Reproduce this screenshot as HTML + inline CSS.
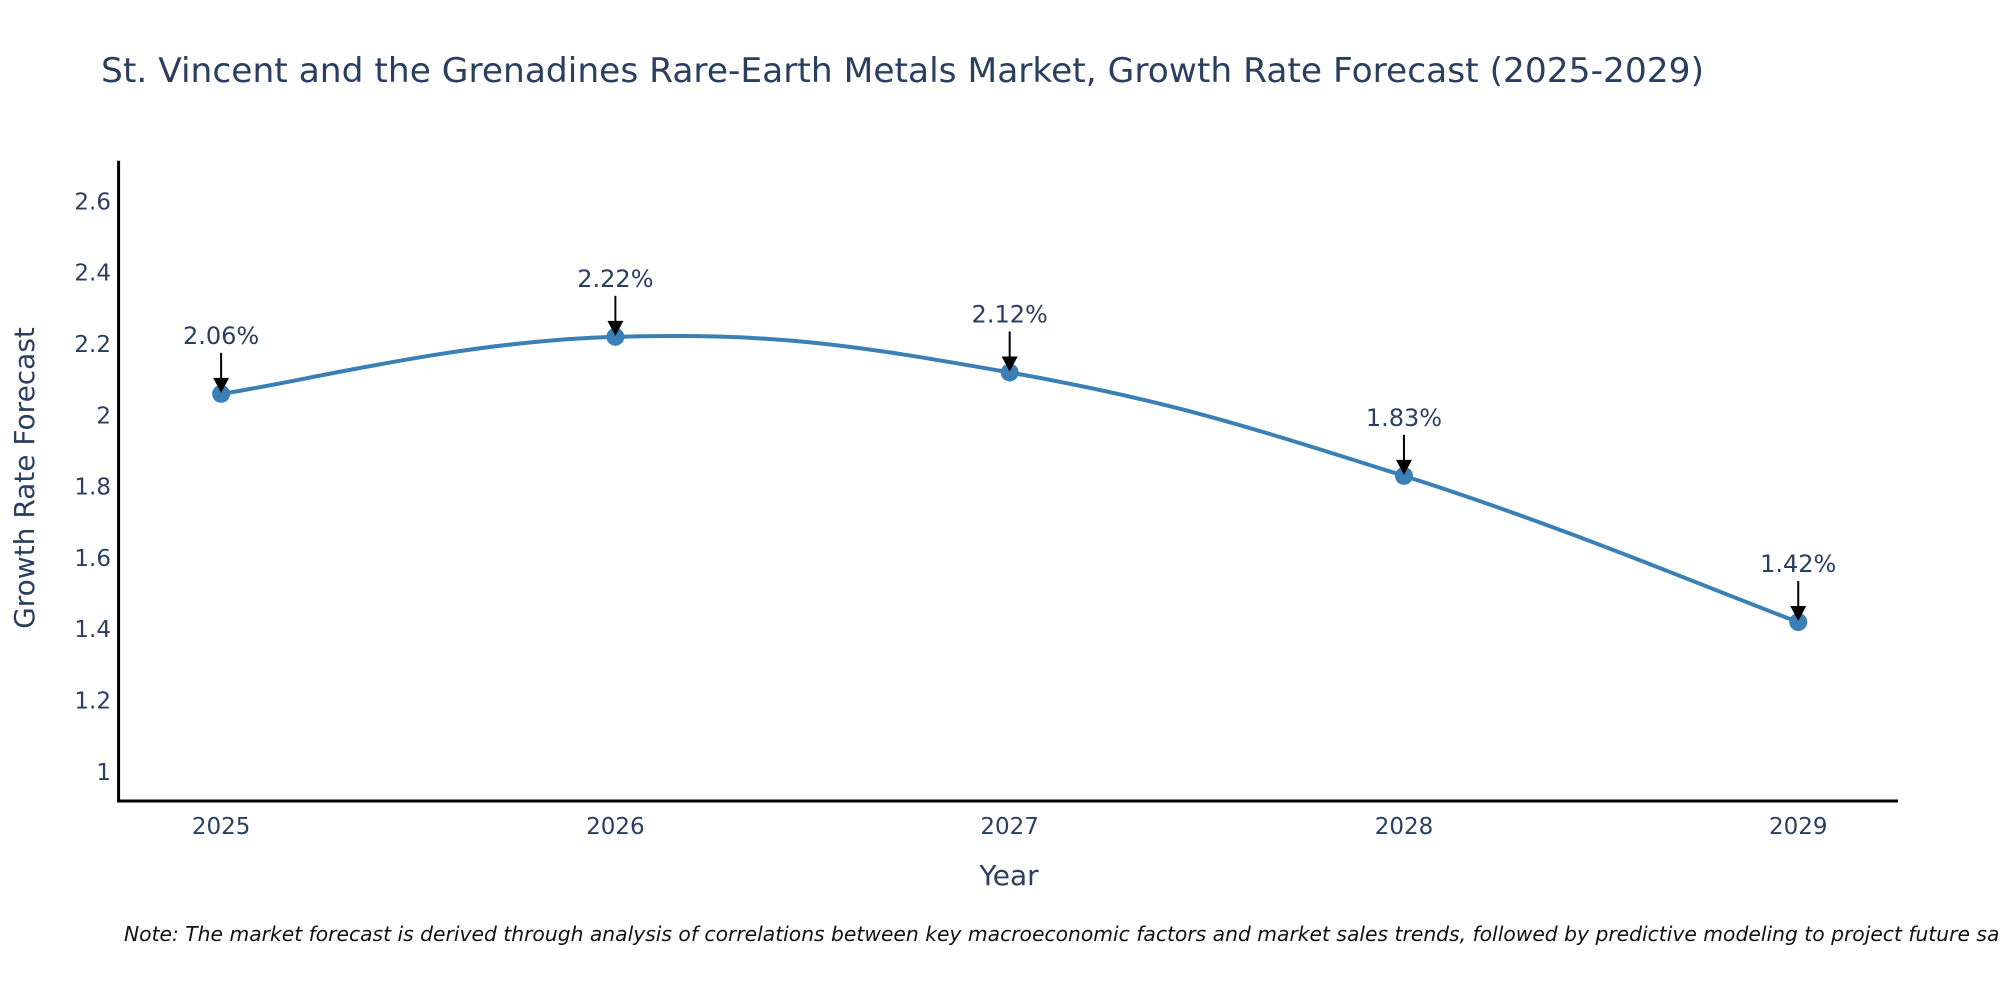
<!DOCTYPE html>
<html><head><meta charset="utf-8"><style>
body{margin:0;background:#fff;}
svg{display:block;font-family:"DejaVu Sans","Liberation Sans",sans-serif;}
</style></head><body>
<svg id="chart" width="2000" height="1000">
<text x="101" y="82" font-size="34" fill="#2a3f5f" textLength="1603" lengthAdjust="spacingAndGlyphs">St. Vincent and the Grenadines Rare-Earth Metals Market, Growth Rate Forecast (2025-2029)</text>
<g id="plot"></g>
<text transform="translate(34,478) rotate(-90)" text-anchor="middle" font-size="28" fill="#2a3f5f">Growth Rate Forecast</text>
<text x="1009" y="885" text-anchor="middle" font-size="28" fill="#2a3f5f">Year</text>
<text x="124" y="941" font-size="20.3" font-style="italic" fill="#111">Note: The market forecast is derived through analysis of correlations between key macroeconomic factors and market sales trends, followed by predictive modeling to project future sales.</text>
</svg>
<script>
const years = [2025, 2026, 2027, 2028, 2029];
const growth = [2.06, 2.22, 2.12, 1.83, 1.42];
const yTicks = [1, 1.2, 1.4, 1.6, 1.8, 2, 2.2, 2.4, 2.6];
const yTickLabels = ["1", "1.2", "1.4", "1.6", "1.8", "2", "2.2", "2.4", "2.6"];

const NS = "http://www.w3.org/2000/svg";
const g = document.getElementById("plot");
const L = 118.6, R = 1898, T = 160.7, B = 801;
const xMin = 2024.74, xMax = 2029.253, yMin = 0.918, yMax = 2.714;
function sx(v){ return L + (v - xMin) / (xMax - xMin) * (R - L); }
function sy(v){ return B - (v - yMin) / (yMax - yMin) * (B - T); }
function mk(tag, attrs){ const e = document.createElementNS(NS, tag); for (const k in attrs) e.setAttribute(k, attrs[k]); g.appendChild(e); return e; }

yTicks.forEach((v, i) => {
  const t = mk("text", {x: 111, y: sy(v) + 8, "text-anchor": "end", "font-size": 23, fill: "#2a3f5f"});
  t.textContent = yTickLabels[i];
  
  
});
years.forEach(v => {
  const t = mk("text", {x: sx(v), y: 834, "text-anchor": "middle", "font-size": 23, fill: "#2a3f5f"});
  t.textContent = String(v);
  
  
});

const ax = mk("path", {d: `M${L},${T} V${B} H${R}`, fill: "none", stroke: "#000", "stroke-width": 3});



const pts = years.map((y, i) => [sx(y), sy(growth[i])]);
let d = `M${pts[0][0]},${pts[0][1]}`;
const s = 0.2;
for (let i = 0; i < pts.length - 1; i++) {
  const p0 = pts[Math.max(0, i - 1)], p1 = pts[i], p2 = pts[i + 1], p3 = pts[Math.min(pts.length - 1, i + 2)];
  const c1 = [p1[0] + (p2[0] - p0[0]) * s, p1[1] + (p2[1] - p0[1]) * s];
  const c2 = [p2[0] - (p3[0] - p1[0]) * s, p2[1] - (p3[1] - p1[1]) * s];
  d += ` C${c1[0]},${c1[1]} ${c2[0]},${c2[1]} ${p2[0]},${p2[1]}`;
}
const line = mk("path", {d: d, fill: "none", stroke: "#3a7fb5", "stroke-width": 4});



pts.forEach((p, i) => {
  const c = mk("circle", {cx: p[0], cy: p[1], r: 9, fill: "#3a7fb5"});
  
  
  const a = mk("line", {x1: p[0], y1: p[1] - 41, x2: p[0], y2: p[1] - 14, stroke: "#000", "stroke-width": 2});
  
  
  const h = mk("path", {d: `M${p[0]-8},${p[1]-16} L${p[0]+8},${p[1]-16} L${p[0]},${p[1]-1} Z`, fill: "#000"});
  
  
  const t = mk("text", {x: p[0], y: p[1] - 50, "text-anchor": "middle", "font-size": 24, fill: "#2a3f5f"});
  t.textContent = growth[i].toFixed(2) + "%";
  
  
});
</script>
</body></html>
